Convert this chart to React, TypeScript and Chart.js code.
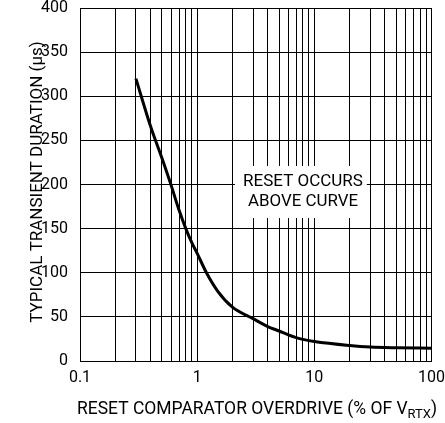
import React, { useEffect, useRef } from 'react';
import { Chart, registerables } from 'chart.js';
Chart.register(...registerables);

// Data
const overdrive = [0.3, 0.4, 0.5, 0.6, 0.7, 0.8, 0.9, 1, 1.2, 1.5, 2, 3, 4, 5, 6, 7, 8, 10, 20, 30, 50, 100];
const duration = [320, 266, 230, 199, 171, 150, 134, 122, 100, 79, 61, 48, 39, 34, 29.5, 26.5, 24.5, 22, 17.5, 15.8, 15, 14.5];

const xTickLabels = [0.1, 1, 10, 100];
const yTicks = [0, 50, 100, 150, 200, 250, 300, 350, 400];

const annotationLines = ['RESET OCCURS', 'ABOVE CURVE'];
const annotationAnchor = { x: 8, y1: 203, y2: 180 };
const annotationBox = { x0: 2.1, x1: 28, y0: 162, y1: 221 };

const yTitle = 'TYPICAL TRANSIENT DURATION (µs)';
const xTitleMain = 'RESET COMPARATOR OVERDRIVE (% OF V';
const xTitleSub = 'RTX';
const xTitleEnd = ')';

const FONT = "Roboto, 'Liberation Sans', sans-serif";

const gridValues: number[] = [];
for (let e = -1; e < 2; e++) {
  for (let s = 1; s < 10; s++) gridValues.push(+(s * Math.pow(10, e)).toPrecision(3));
}
gridValues.push(100);

const textPlugin = {
  id: 'textPlugin',
  beforeDatasetsDraw(chart: any) {
    const { ctx, scales } = chart;
    const x = scales.x, y = scales.y;
    const bx0 = x.getPixelForValue(annotationBox.x0);
    const bx1 = x.getPixelForValue(annotationBox.x1);
    const by0 = y.getPixelForValue(annotationBox.y1);
    const by1 = y.getPixelForValue(annotationBox.y0);
    ctx.save();
    ctx.fillStyle = '#fff';
    ctx.fillRect(bx0, by0, bx1 - bx0, by1 - by0);
    ctx.fillStyle = '#000';
    ctx.font = `17px ${FONT}`;
    ctx.textAlign = 'center';
    ctx.textBaseline = 'middle';
    const cx = x.getPixelForValue(annotationAnchor.x);
    ctx.fillText(annotationLines[0], cx, y.getPixelForValue(annotationAnchor.y1), 121);
    ctx.fillText(annotationLines[1], cx, y.getPixelForValue(annotationAnchor.y2), 110);
    ctx.restore();
  },
  afterDraw(chart: any) {
    const { ctx } = chart;
    ctx.save();
    ctx.fillStyle = '#000';
    ctx.font = `17px ${FONT}`;
    ctx.textAlign = 'center';
    ctx.textBaseline = 'middle';
    ctx.translate(37.5, 182);
    ctx.rotate(-Math.PI / 2);
    ctx.fillText(yTitle, 0, 0, 312);
    ctx.restore();

    ctx.save();
    ctx.fillStyle = '#000';
    ctx.textBaseline = 'alphabetic';
    ctx.textAlign = 'left';
    const mainFont = `17.5px ${FONT}`;
    const subFont = `13px ${FONT}`;
    ctx.font = mainFont;
    const w1 = ctx.measureText(xTitleMain).width;
    const w3 = ctx.measureText(xTitleEnd).width;
    ctx.font = subFont;
    const w2 = ctx.measureText(xTitleSub).width;
    const sc = Math.min(1, 360 / (w1 + w2 + w3));
    const x0 = 77;
    ctx.font = mainFont;
    ctx.fillText(xTitleMain, x0, 414, w1 * sc);
    ctx.font = subFont;
    ctx.fillText(xTitleSub, x0 + w1 * sc, 418, w2 * sc);
    ctx.font = mainFont;
    ctx.fillText(xTitleEnd, x0 + (w1 + w2) * sc, 414, w3 * sc);
    ctx.restore();
  },
};

export default function App() {
  const ref = useRef<HTMLCanvasElement>(null);
  useEffect(() => {
    if (!ref.current) return;
    const chart = new Chart(ref.current, {
      type: 'line',
      data: {
        datasets: [
          {
            data: overdrive.map((v, i) => ({ x: v, y: duration[i] })),
            borderColor: '#000',
            borderWidth: 3,
            pointRadius: 0,
            cubicInterpolationMode: 'monotone',
            fill: false,
          },
        ],
      },
      options: {
        animation: false,
        responsive: false,
        layout: { padding: { top: 8, right: 13, left: 0, bottom: 0 } },
        plugins: { legend: { display: false }, tooltip: { enabled: false } },
        scales: {
          x: {
            type: 'logarithmic',
            min: 0.1,
            max: 100,
            afterFit: (s: any) => { s.height = 62; },
            afterBuildTicks: (s: any) => { s.ticks = gridValues.map((v) => ({ value: v })); },
            grid: { color: '#000', lineWidth: 1, drawTicks: true, tickLength: 9, tickColor: 'rgba(0,0,0,0)' },
            border: { color: '#000', width: 1 },
            ticks: {
              autoSkip: false, maxRotation: 0, padding: 0, color: '#000',
              font: { family: FONT, size: 16, lineHeight: 1 },
              callback: (v: any) => (xTickLabels.includes(Number(v)) ? String(v) : ''),
            },
          },
          y: {
            min: 0,
            max: 400,
            afterFit: (s: any) => { s.width = 80; },
            afterBuildTicks: (s: any) => { s.ticks = yTicks.map((v) => ({ value: v })); },
            grid: { color: '#000', lineWidth: 1, drawTicks: true, tickLength: 12, tickColor: 'rgba(0,0,0,0)' },
            border: { color: '#000', width: 1 },
            ticks: {
              padding: 0, color: '#000',
              font: { family: FONT, size: 16, lineHeight: 1 },
              callback: (v: any) => String(v),
            },
          },
        },
      },
      plugins: [textPlugin],
    } as any);
    return () => chart.destroy();
  }, []);
  return (
    <div style={{ position: 'fixed', left: 0, top: 0, width: 445, height: 423, background: '#fff' }}>
      <canvas ref={ref} width={445} height={423} style={{ display: 'block' }} />
    </div>
  );
}
